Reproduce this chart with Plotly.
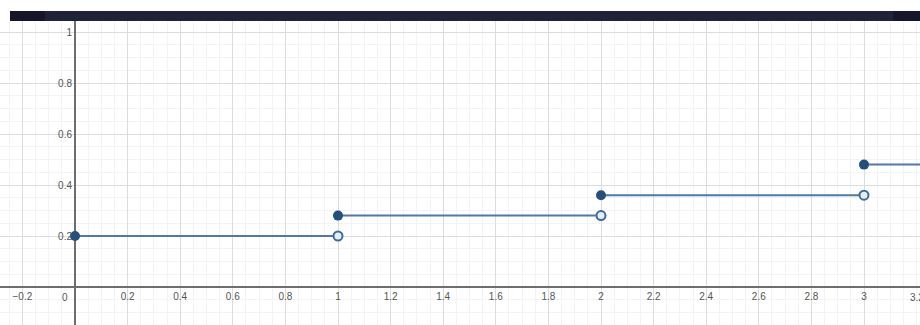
import plotly.graph_objects as go

# Step function: value on each unit interval [k, k+1)
step_starts = [0, 1, 2, 3]
step_ends = [1, 2, 3, 3.3]
step_values = [0.2, 0.28, 0.36, 0.48]

# Closed endpoints (left ends) and open endpoints (right ends)
closed_x = [0, 1, 2, 3]
closed_y = [0.2, 0.28, 0.36, 0.48]
open_x = [1, 2, 3]
open_y = [0.2, 0.28, 0.36]

# Axis tick labels
x_ticks = [-0.2, 0.2, 0.4, 0.6, 0.8, 1, 1.2, 1.4, 1.6, 1.8, 2, 2.2, 2.4, 2.6, 2.8, 3]
x_labels = ["−0.2", "0.2", "0.4", "0.6", "0.8", "1", "1.2", "1.4", "1.6", "1.8",
            "2", "2.2", "2.4", "2.6", "2.8", "3"]
edge_tick, edge_label = 3.2, "3.2"
y_ticks = [0.2, 0.4, 0.6, 0.8, 1]
y_labels = ["0.2", "0.4", "0.6", "0.8", "1"]

W, H = 920, 325
TOP = 21
x_range = [-75 / 263, 845 / 263]
y_range = [-(325 - 287) / 255, (287 - TOP) / 255]

LINE = "#4a7bab"
DARK = "#24507e"
TICK_FONT = dict(family="Liberation Sans, Arial, sans-serif", size=10, color="#555555")

fig = go.Figure()

# horizontal segments
for x0, x1, v in zip(step_starts, step_ends, step_values):
    fig.add_trace(go.Scatter(
        x=[x0, x1], y=[v, v], mode="lines",
        line=dict(color=LINE, width=2), hoverinfo="skip", showlegend=False))

# open circles
fig.add_trace(go.Scatter(
    x=open_x, y=open_y, mode="markers",
    marker=dict(size=9, color="#e6eef7", line=dict(color="#3c6b9c", width=2)),
    showlegend=False))

# filled circles
fig.add_trace(go.Scatter(
    x=closed_x, y=closed_y, mode="markers",
    marker=dict(size=10, color=DARK, line=dict(color=DARK, width=0)),
    showlegend=False))

minor = dict(dtick=0.05, showgrid=True, gridcolor="#f3f3f3", gridwidth=1)

fig.update_xaxes(
    range=x_range, anchor="free", position=(325 - 287) / (H - TOP),
    tickmode="array", tickvals=x_ticks, ticktext=x_labels,
    showgrid=True, gridcolor="#dcdcdc", gridwidth=1,
    minor=minor,
    zeroline=True, zerolinecolor="#6e6e6e", zerolinewidth=1.5,
    showline=False, ticks="", tickfont=TICK_FONT, ticklabelstandoff=2,
    fixedrange=True,
)
fig.update_yaxes(
    range=y_range, anchor="free", position=75 / W,
    tickmode="array", tickvals=y_ticks, ticktext=y_labels,
    showgrid=True, gridcolor="#dcdcdc", gridwidth=1,
    minor=minor,
    zeroline=True, zerolinecolor="#6e6e6e", zerolinewidth=1.5,
    showline=False, ticks="", tickfont=TICK_FONT, ticklabelstandoff=3,
    fixedrange=True,
)

# origin label
fig.add_annotation(x=0, y=0, text="0", showarrow=False, xanchor="right",
                   yanchor="top", xshift=-5, yshift=-3, font=TICK_FONT)
# label at the right edge, partly cut off by the frame
fig.add_annotation(x=edge_tick, y=0, text=edge_label, showarrow=False, xanchor="center",
                   yanchor="top", yshift=-3, font=TICK_FONT)

# dark header bar across the top
bar_y0 = 1.0
bar_y1 = 1.0 + 10 / (H - TOP)
fig.add_shape(type="rect", xref="paper", yref="paper", x0=10 / W, x1=1.0,
              y0=bar_y0, y1=bar_y1, fillcolor="#1f2338", line=dict(width=0), layer="above")
fig.add_shape(type="rect", xref="paper", yref="paper", x0=10 / W, x1=45 / W,
              y0=bar_y0, y1=bar_y1, fillcolor="#14172a", line=dict(width=0), layer="above")
fig.add_shape(type="rect", xref="paper", yref="paper", x0=893 / W, x1=1.0,
              y0=bar_y0, y1=bar_y1, fillcolor="#15182b", line=dict(width=0), layer="above")

fig.update_layout(
    width=W, height=H,
    margin=dict(l=0, r=0, t=TOP, b=0, pad=0),
    paper_bgcolor="white", plot_bgcolor="white",
    showlegend=False,
)

fig.write_html("out.html", config={"displayModeBar": False})
